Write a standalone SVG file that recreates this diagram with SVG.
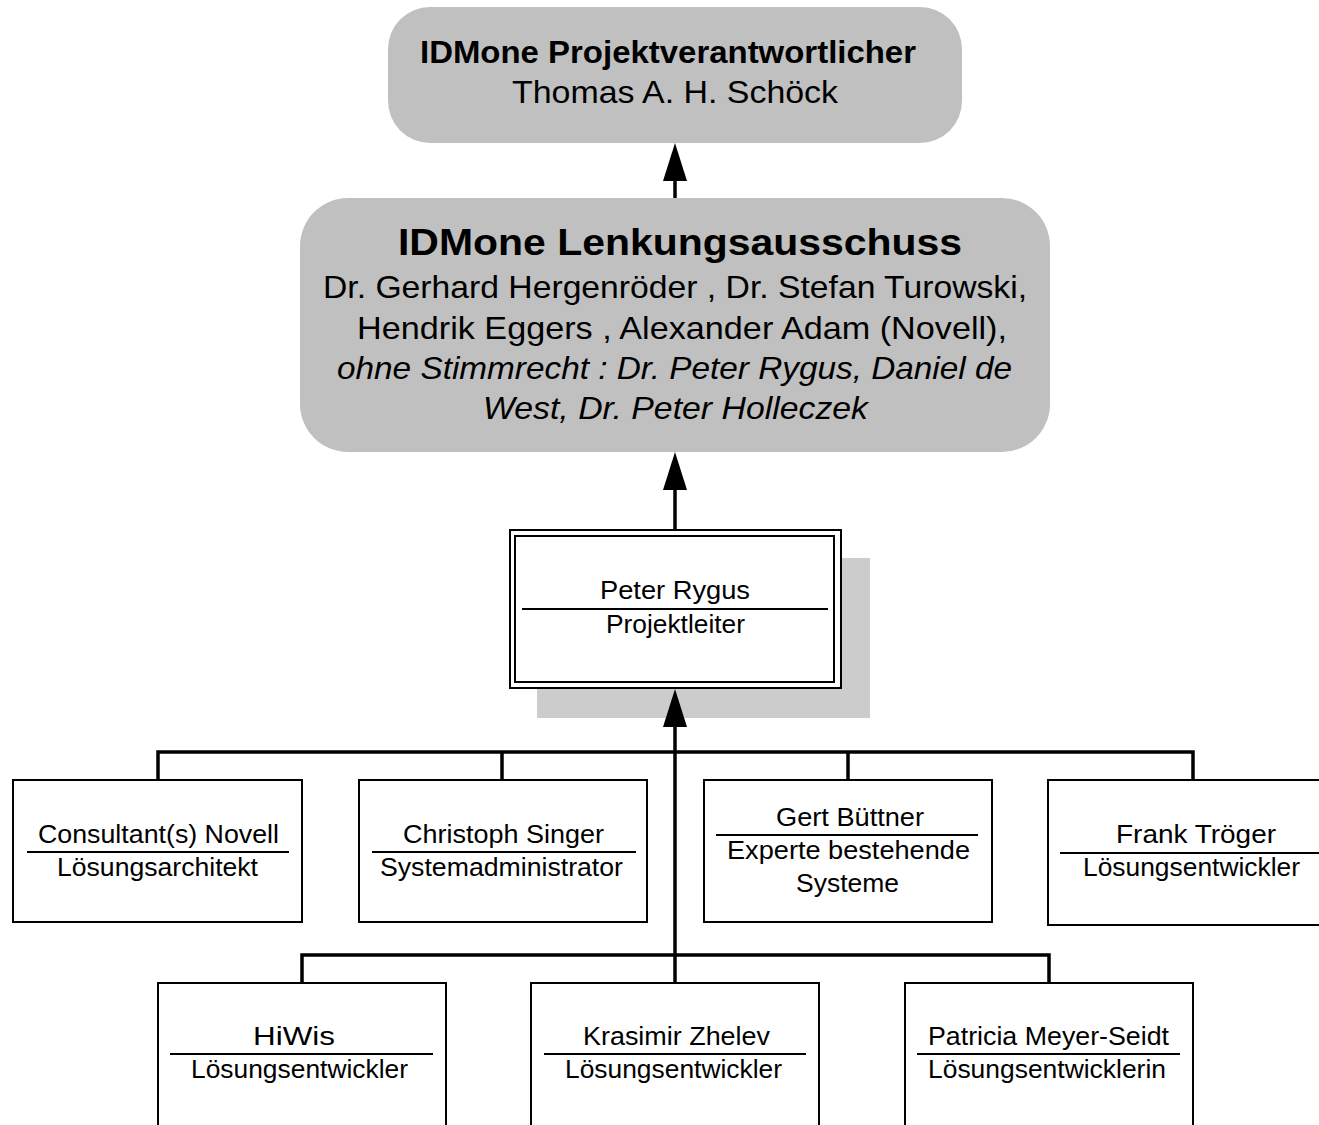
<svg xmlns="http://www.w3.org/2000/svg" width="1319" height="1125" viewBox="0 0 1319 1125">
<defs>
<style>
text{font-family:"Liberation Sans",Arial,sans-serif;fill:#000;text-anchor:middle}
.grey{fill:#c0c0c0;stroke:none}
.box{fill:#fff;stroke:#000;stroke-width:2}
.sep{stroke:#000;stroke-width:2}
.conn{fill:none;stroke:#000;stroke-width:3.5}
.t{font-size:25px}
.big{font-size:32px}
</style>
</defs>
<rect width="1319" height="1125" fill="#fff"/>

<g id="node-projektverantwortlicher">
<rect class="grey" x="388" y="7" width="574" height="136" rx="42" ry="42"/>
<text x="668" y="63" style="font-size:32px;font-weight:bold" textLength="496" lengthAdjust="spacingAndGlyphs">IDMone Projektverantwortlicher</text>
<text x="675" y="103" style="font-size:32px" textLength="326" lengthAdjust="spacingAndGlyphs">Thomas A. H. Schöck</text>
</g>

<g id="node-lenkungsausschuss">
<rect class="grey" x="300" y="198" width="750" height="254" rx="48" ry="48"/>
<text x="680" y="255" style="font-size:37px;font-weight:bold" textLength="564" lengthAdjust="spacingAndGlyphs">IDMone Lenkungsausschuss</text>
<text class="big" x="675" y="298" textLength="704" lengthAdjust="spacingAndGlyphs">Dr. Gerhard Hergenröder , Dr. Stefan Turowski,</text>
<text class="big" x="682" y="339" textLength="650" lengthAdjust="spacingAndGlyphs">Hendrik Eggers , Alexander Adam  (Novell),</text>
<text class="big" x="674.5" y="379" font-style="italic" textLength="675" lengthAdjust="spacingAndGlyphs">ohne Stimmrecht : Dr. Peter Rygus, Daniel de</text>
<text class="big" x="675.5" y="419" font-style="italic" textLength="385" lengthAdjust="spacingAndGlyphs">West, Dr. Peter Holleczek</text>
</g>

<g id="node-projektleiter">
<rect x="537" y="558" width="333" height="160" fill="#cccccc"/>
<rect class="box" x="510" y="530" width="331" height="158"/>
<rect x="515" y="536" width="319" height="146" fill="none" stroke="#000" stroke-width="2"/>
<text class="t" x="675" y="599" textLength="150" lengthAdjust="spacingAndGlyphs">Peter Rygus</text>
<line class="sep" x1="522" y1="609" x2="828" y2="609"/>
<text class="t" x="675.5" y="633" textLength="139" lengthAdjust="spacingAndGlyphs">Projektleiter</text>
</g>

<g id="node-consultant">
<rect class="box" x="13" y="780" width="289" height="142"/>
<text class="t" x="158.5" y="843" textLength="241" lengthAdjust="spacingAndGlyphs">Consultant(s) Novell</text>
<line class="sep" x1="27" y1="852" x2="289" y2="852"/>
<text class="t" x="157.5" y="876" textLength="201" lengthAdjust="spacingAndGlyphs">Lösungsarchitekt</text>
</g>

<g id="node-singer">
<rect class="box" x="359" y="780" width="288" height="142"/>
<text class="t" x="503.5" y="843" textLength="201" lengthAdjust="spacingAndGlyphs">Christoph Singer</text>
<line class="sep" x1="372" y1="852" x2="636" y2="852"/>
<text class="t" x="501.5" y="876" textLength="243" lengthAdjust="spacingAndGlyphs">Systemadministrator</text>
</g>

<g id="node-buettner">
<rect class="box" x="704" y="780" width="288" height="142"/>
<text class="t" x="850" y="826" textLength="148" lengthAdjust="spacingAndGlyphs">Gert Büttner</text>
<line class="sep" x1="716" y1="835" x2="978" y2="835"/>
<text class="t" x="848.5" y="859" textLength="243" lengthAdjust="spacingAndGlyphs">Experte bestehende</text>
<text class="t" x="847.5" y="892" textLength="103" lengthAdjust="spacingAndGlyphs">Systeme</text>
</g>

<g id="node-troeger">
<rect class="box" x="1048" y="780" width="288" height="145"/>
<text class="t" x="1196" y="843" textLength="160" lengthAdjust="spacingAndGlyphs">Frank Tröger</text>
<line class="sep" x1="1060" y1="853" x2="1319" y2="853"/>
<text class="t" x="1191.5" y="876" textLength="217" lengthAdjust="spacingAndGlyphs">Lösungsentwickler</text>
</g>

<g id="node-hiwis">
<rect class="box" x="158" y="983" width="288" height="160"/>
<text class="t" x="294" y="1045" textLength="82" lengthAdjust="spacingAndGlyphs">HiWis</text>
<line class="sep" x1="170" y1="1054" x2="433" y2="1054"/>
<text class="t" x="299.5" y="1078" textLength="217" lengthAdjust="spacingAndGlyphs">Lösungsentwickler</text>
</g>

<g id="node-zhelev">
<rect class="box" x="531" y="983" width="288" height="160"/>
<text class="t" x="676.5" y="1045" textLength="187" lengthAdjust="spacingAndGlyphs">Krasimir Zhelev</text>
<line class="sep" x1="544" y1="1054" x2="806" y2="1054"/>
<text class="t" x="673.5" y="1078" textLength="217" lengthAdjust="spacingAndGlyphs">Lösungsentwickler</text>
</g>

<g id="node-meyer-seidt">
<rect class="box" x="905" y="983" width="288" height="160"/>
<text class="t" x="1048.5" y="1045" textLength="241" lengthAdjust="spacingAndGlyphs">Patricia Meyer-Seidt</text>
<line class="sep" x1="917" y1="1054" x2="1180" y2="1054"/>
<text class="t" x="1047" y="1078" textLength="238" lengthAdjust="spacingAndGlyphs">Lösungsentwicklerin</text>
</g>

<g id="connectors">
<line class="conn" x1="675" y1="198" x2="675" y2="170"/>
<path d="M663,181 L675,143 L687,181 Z" fill="#000"/>
<line class="conn" x1="675" y1="530" x2="675" y2="480"/>
<path d="M663,490 L675,452 L687,490 Z" fill="#000"/>
<line class="conn" x1="675" y1="955" x2="675" y2="715"/>
<path d="M663,727 L675,689 L687,727 Z" fill="#000"/>
<polyline class="conn" points="158,780 158,752 1193,752 1193,780"/>
<line class="conn" x1="502" y1="752" x2="502" y2="780"/>
<line class="conn" x1="848" y1="752" x2="848" y2="780"/>
<polyline class="conn" points="302,983 302,955 1049,955 1049,983"/>
<line class="conn" x1="675" y1="955" x2="675" y2="983"/>
</g>
</svg>
